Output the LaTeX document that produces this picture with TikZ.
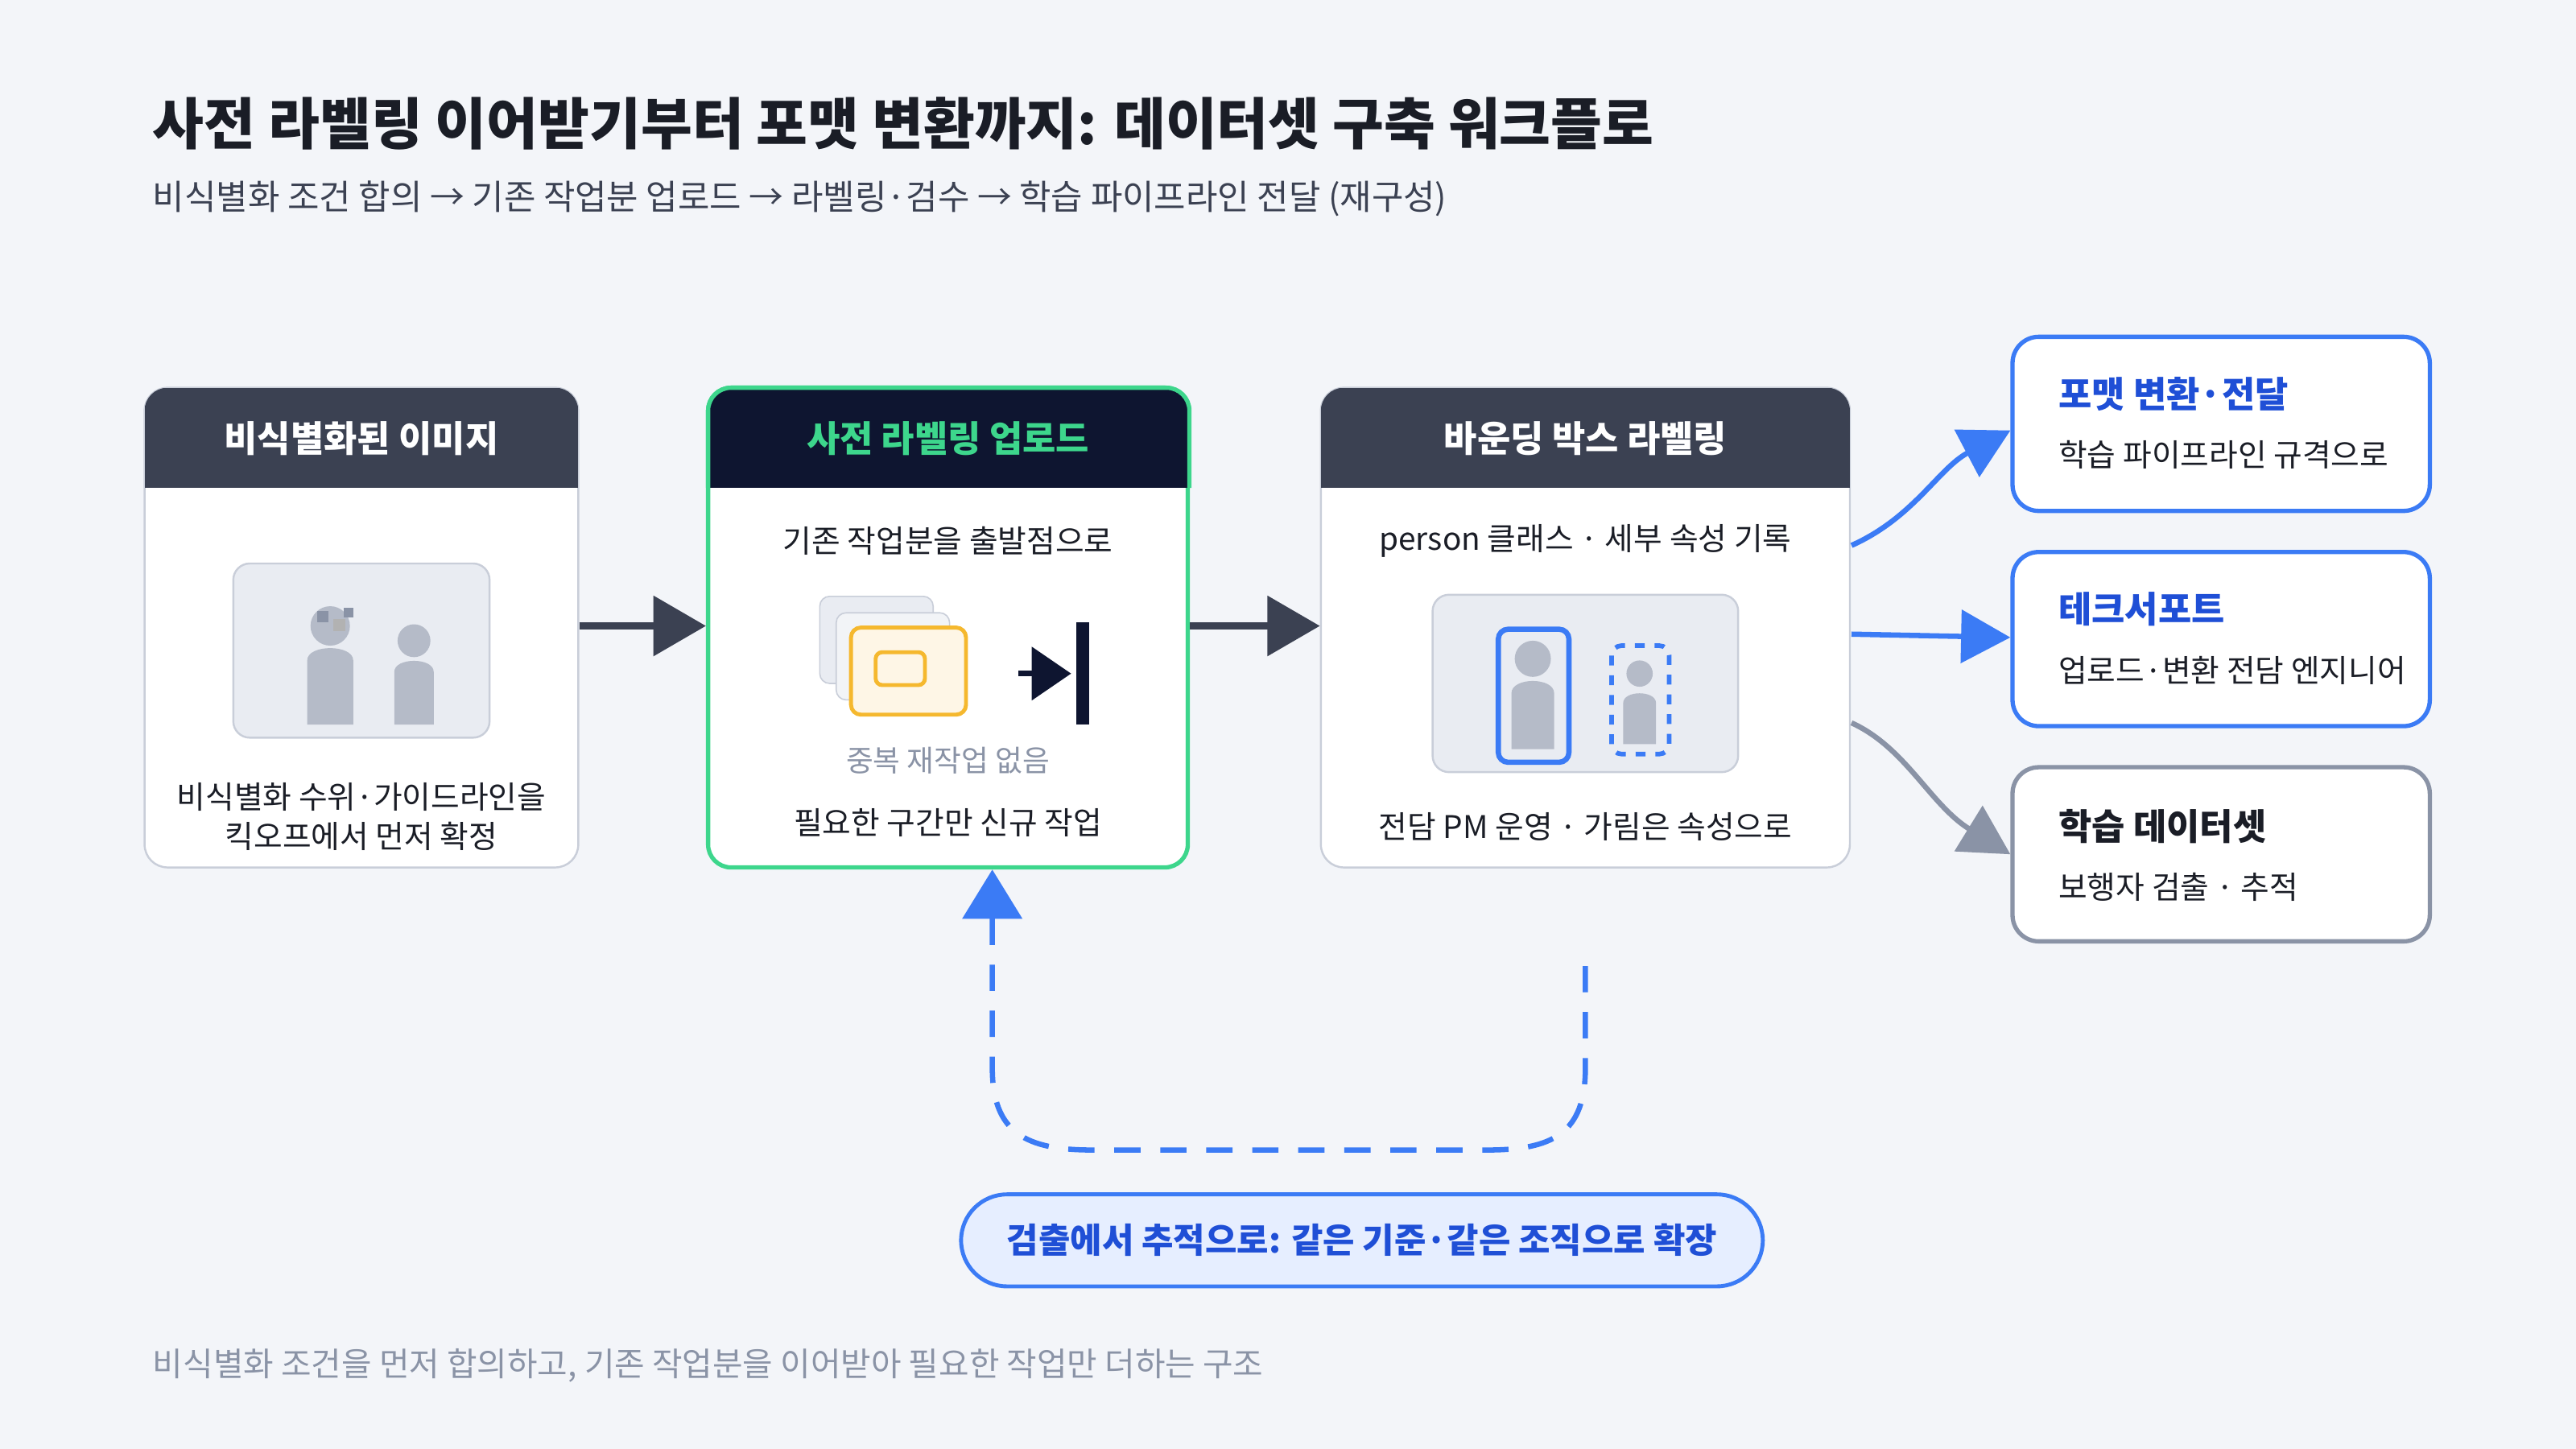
\documentclass[tikz,border=0pt]{standalone}
\usepackage{fontspec}
\setmainfont{Noto Sans CJK KR}
\usetikzlibrary{arrows.meta,positioning}
\definecolor{bg}{HTML}{F3F5F9}
\definecolor{ink}{HTML}{1A1D26}
\definecolor{hdr}{HTML}{3B4152}
\definecolor{navy}{HTML}{0E1530}
\definecolor{mint}{HTML}{3DD68C}
\definecolor{blu}{HTML}{3B7BF5}
\definecolor{bluD}{HTML}{1F4FD6}
\definecolor{gry}{HTML}{8A93A6}
\definecolor{frame}{HTML}{C9CED9}
\definecolor{pale}{HTML}{E9ECF2}
\definecolor{fig}{HTML}{B5BBC8}
\definecolor{amber}{HTML}{F5B82E}
\definecolor{pill}{HTML}{E6EEFF}

\begin{document}
\begin{tikzpicture}[x=0.5pt,y=-0.5pt,
  card/.style={draw=frame,fill=white,rounded corners=7pt,line width=0.6pt},
  side/.style={draw=blu,fill=white,rounded corners=8pt,line width=1.3pt,minimum width=127pt,minimum height=53pt},
  hd/.style={text=white,font=\bfseries\fontsize{11}{13}\selectfont},
  body/.style={text=ink,font=\fontsize{9.5}{12}\selectfont,align=center},
  flow/.style={line width=2pt,draw=hdr,-{Triangle[length=16pt,width=18pt]}},
  link/.style={line width=1.6pt,-{Triangle[length=15pt,width=16pt]}}]
\fill[bg] (0,0) rectangle (1568,882);
\useasboundingbox (0,0) rectangle (1568,882);

% title
\node[anchor=west,text=ink,font=\bfseries\fontsize{17}{20}\selectfont] (title) at (86,75) {사전 라벨링 이어받기부터 포맷 변환까지: 데이터셋 구축 워크플로};
\node[anchor=west,text=hdr,font=\fontsize{10.5}{13}\selectfont] (sub) at (86,121) {비식별화 조건 합의 → 기존 작업분 업로드 → 라벨링·검수 → 학습 파이프라인 전달 (재구성)};

% card 1
\node[card,minimum width=132pt,minimum height=146pt] (c1) at (220,382) {};
\begin{scope}
\clip[rounded corners=7pt] (88,236) rectangle (352,330);
\fill[hdr] (88,236) rectangle (352,297);
\end{scope}
\node[hd] (h1) at (220,267) {비식별화된 이미지};
\node[draw=frame,fill=pale,rounded corners=5pt,minimum width=78pt,minimum height=53pt,line width=0.6pt] (img1) at (220,396) {};
\fill[fig] (201,381) circle (12);
\fill[fig] (187,441) -- (187,402) .. controls (187,392) and (215,392) .. (215,402) -- (215,441) -- cycle;
\fill[gry] (193,372) rectangle (200,379); \fill[gray!60] (203,377) rectangle (210,384); \fill[gry] (209,370) rectangle (215,376);
\fill[fig] (252,390) circle (10);
\fill[fig] (240,441) -- (240,409) .. controls (240,400) and (264,400) .. (264,409) -- (264,441) -- cycle;
\node[body] (t1) at (220,497) {비식별화 수위·가이드라인을\\킥오프에서 먼저 확정};

% card 2
\node[card,draw=mint,line width=1.3pt,minimum width=146pt,minimum height=146pt] (c2) at (577,382) {};
\begin{scope}
\clip[rounded corners=7pt] (431,236) rectangle (724,330);
\fill[navy] (431,236) rectangle (724,297);
\end{scope}
\draw[mint,line width=1.3pt,rounded corners=7pt] (431,297) |- (724,236) -- (724,297);
\node[hd,text=mint] (h2) at (577,267) {사전 라벨링 업로드};
\node[body] (t2a) at (577,329) {기존 작업분을 출발점으로};
\draw[frame,fill=pale,rounded corners=3pt] (499,363) rectangle (568,416);
\draw[frame,fill=pale!60,rounded corners=3pt] (509,373) rectangle (578,426);
\draw[amber,fill=amber!12,line width=1.2pt,rounded corners=3pt] (518,382) rectangle (588,435);
\draw[amber,line width=1.2pt,rounded corners=2pt] (533,397) rectangle (563,417);
\draw[line width=1.6pt,navy,-{Triangle[length=12pt,width=16pt]}] (620,410) -- (652,410);
\draw[line width=4pt,navy] (659,379) -- (659,441);
\node[text=gry,font=\fontsize{9}{11}\selectfont] (t2b) at (577,463) {중복 재작업 없음};
\node[body] (t2c) at (577,501) {필요한 구간만 신규 작업};

% card 3
\node[card,minimum width=161pt,minimum height=146pt] (c3) at (965,382) {};
\begin{scope}
\clip[rounded corners=7pt] (804,236) rectangle (1126,330);
\fill[hdr] (804,236) rectangle (1126,297);
\end{scope}
\node[hd] (h3) at (965,267) {바운딩 박스 라벨링};
\node[body] (t3a) at (965,329) {person 클래스 · 세부 속성 기록};
\node[draw=frame,fill=pale,rounded corners=5pt,minimum width=93pt,minimum height=54pt,line width=0.6pt] (img3) at (965,416) {};
\fill[fig] (933,401) circle (11);
\fill[fig] (920,456) -- (920,422) .. controls (920,412) and (946,412) .. (946,422) -- (946,456) -- cycle;
\draw[blu,line width=1.6pt,rounded corners=3pt] (912,383) rectangle (955,464);
\fill[fig] (998,410) circle (8);
\fill[fig] (988,453) -- (988,428) .. controls (988,420) and (1008,420) .. (1008,428) -- (1008,453) -- cycle;
\draw[blu,line width=1.4pt,dashed,rounded corners=3pt] (981,393) rectangle (1016,459);
\node[body] (t3b) at (965,503) {전담 PM 운영 · 가림은 속성으로};

% side cards
\node[side] (s1) at (1352,258) {};
\node[anchor=west,text=bluD,font=\bfseries\fontsize{11}{13}\selectfont] at (1246,240) {포맷 변환·전달};
\node[anchor=west,body] at (1246,277) {학습 파이프라인 규격으로};
\node[side] (s2) at (1352,389) {};
\node[anchor=west,text=bluD,font=\bfseries\fontsize{11}{13}\selectfont] at (1246,371) {테크서포트};
\node[anchor=west,body] at (1246,408) {업로드·변환 전담 엔지니어};
\node[side,draw=gry] (s3) at (1352,520) {};
\node[anchor=west,text=ink,font=\bfseries\fontsize{11}{13}\selectfont] at (1246,503) {학습 데이터셋};
\node[anchor=west,body] at (1246,540) {보행자 검출 · 추적};

% connectors
\draw[flow] (c1.east |- 0,381) -- (c2.west |- 0,381);
\draw[flow] (c2.east |- 0,381) -- (c3.west |- 0,381);
\coordinate (o1) at (1127,332);
\coordinate (o2) at (1127,386);
\coordinate (o3) at (1127,440);
\draw[link,blu] (o1) .. controls (1165,315) and (1180,285) .. (s1.west |- 0,262);
\draw[link,blu] (o2) -- (s2.west |- 0,388);
\draw[link,gry,draw=gry] (o3) .. controls (1160,455) and (1175,490) .. (s3.west |- 0,520);
\draw[blu,line width=1.6pt,dash pattern=on 8pt off 6pt,-{Triangle[length=15pt,width=18pt]}]
  (965,588) -- (965,650) .. controls (965,690) and (945,700) .. (905,700) -- (665,700)
  .. controls (625,700) and (604,690) .. (604,650) -- (c2.south -| 604,0);

% pill
\node[draw=blu,fill=pill,line width=1.2pt,rounded corners=14pt,minimum width=244pt,minimum height=28pt,text=bluD,font=\bfseries\fontsize{10.5}{13}\selectfont] (note) at (829,755) {검출에서 추적으로: 같은 기준·같은 조직으로 확장};

\node[anchor=west,text=gry,font=\fontsize{10}{12}\selectfont] (foot) at (86,831) {비식별화 조건을 먼저 합의하고, 기존 작업분을 이어받아 필요한 작업만 더하는 구조};
\end{tikzpicture}
\end{document}
